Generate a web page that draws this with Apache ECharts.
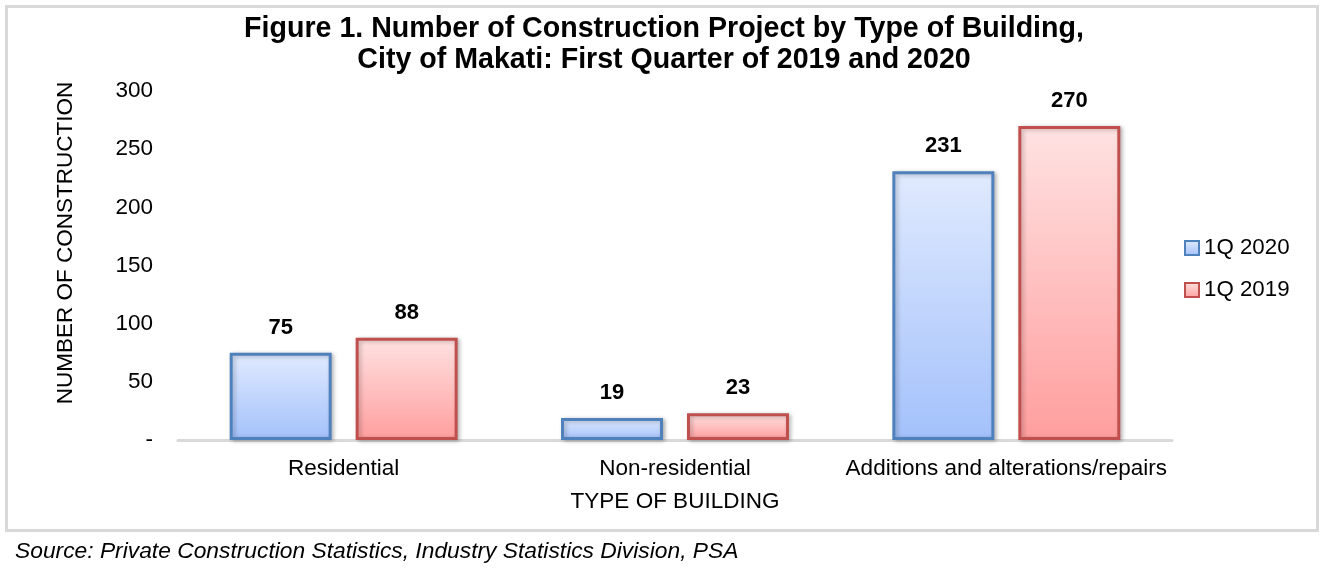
<!DOCTYPE html>
<html><head><meta charset="utf-8">
<script src="https://cdn.jsdelivr.net/npm/echarts@6/dist/echarts.min.js"></script>
<style>html,body{margin:0;padding:0;background:#fff;}#c{width:1325px;height:573px;}</style>
</head><body><div id="c"></div>
<script>
const categories = ['Residential', 'Non-residential', 'Additions and alterations/repairs'];
const series2020 = [75, 19, 231];
const series2019 = [88, 23, 270];
const seriesNames = ['1Q 2020', '1Q 2019'];
const yTicks = [0, 50, 100, 150, 200, 250, 300];

const chart = echarts.init(document.getElementById('c'));
const font = 'Liberation Sans, Arial, sans-serif';
function grad(top, bottom) {
  return new echarts.graphic.LinearGradient(0, 0, 0, 1, [{offset: 0, color: top}, {offset: 1, color: bottom}]);
}
chart.setOption({
  animation: false,
  textStyle: {fontFamily: font},
  title: {
    text: 'Figure 1. Number of Construction Project by Type of Building,\nCity of Makati: First Quarter of 2019 and 2020',
    left: 659, top: 9, textAlign: 'center',
    textStyle: {fontSize: 28.6, fontWeight: 'bold', color: '#000', lineHeight: 31, fontFamily: font}
  },
  graphic: [
    {type: 'rect', shape: {x: 6.5, y: 6.5, width: 1311, height: 524}, style: {fill: 'none', stroke: '#d9d9d9', lineWidth: 3}, z: -1},
    {type: 'text', x: 66, y: 243, rotation: Math.PI / 2,
      style: {text: 'NUMBER OF CONSTRUCTION', font: '22.5px ' + font, fill: '#000', align: 'center', verticalAlign: 'middle'}},
    {type: 'text', left: 15, top: 540, style: {text: 'Source: Private Construction Statistics, Industry Statistics Division, PSA', font: 'italic 22.8px ' + font, fill: '#000'}}
  ],
  legend: {
    orient: 'vertical', left: 1179, top: 232, itemGap: 20, itemWidth: 14, itemHeight: 14,
    icon: 'rect',
    textStyle: {fontSize: 22.3, color: '#000', fontFamily: font},
    data: seriesNames
  },
  grid: {left: 178, right: 153, top: 91, bottom: 133, containLabel: false},
  xAxis: {
    type: 'category', data: categories,
    name: 'TYPE OF BUILDING', nameLocation: 'middle', nameGap: 50,
    nameTextStyle: {fontSize: 22.5, color: '#000', fontFamily: font},
    axisLine: {lineStyle: {color: '#d9d9d9', width: 3}},
    axisTick: {show: false},
    axisLabel: {fontSize: 22.5, color: '#000', margin: 17, fontFamily: font, interval: 0}
  },
  yAxis: {
    type: 'value', min: 0, max: 300, interval: 50,
    axisLine: {show: false}, axisTick: {show: false}, splitLine: {show: false},
    axisLabel: {fontSize: 22.5, color: '#000', margin: 25, fontFamily: font,
      formatter: v => yTicks.includes(v) ? (v === 0 ? '-' : String(v)) : ''}
  },
  series: [
    {
      name: seriesNames[0], type: 'bar', data: series2020, barWidth: 102, barGap: '23.5%',
      itemStyle: {color: grad('#e0eafe', '#a3c1fb'), borderColor: '#4f81bd', borderWidth: 3,
        shadowColor: 'rgba(0,0,0,0.25)', shadowBlur: 4, shadowOffsetX: 2, shadowOffsetY: 1},
      label: {show: true, position: 'top', distance: 14, fontSize: 22, fontWeight: 'bold', color: '#000', fontFamily: font}
    },
    {
      name: seriesNames[1], type: 'bar', data: series2019, barWidth: 102,
      itemStyle: {color: grad('#ffe2e2', '#ff9e9e'), borderColor: '#c0504d', borderWidth: 3,
        shadowColor: 'rgba(0,0,0,0.25)', shadowBlur: 4, shadowOffsetX: 2, shadowOffsetY: 1},
      label: {show: true, position: 'top', distance: 14, fontSize: 22, fontWeight: 'bold', color: '#000', fontFamily: font}
    }
  ]
});
</script></body></html>
